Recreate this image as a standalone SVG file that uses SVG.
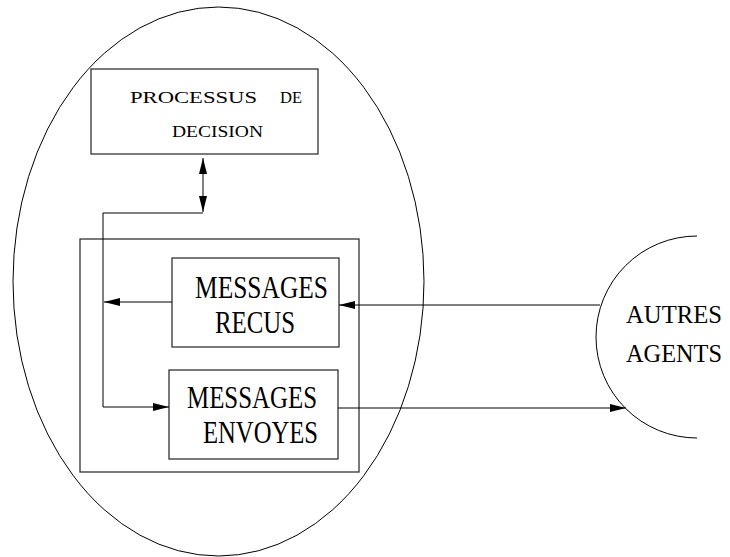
<svg xmlns="http://www.w3.org/2000/svg" width="730" height="557" viewBox="0 0 730 557">
<defs>
<style>
.s{fill:none;stroke:#000;stroke-width:1}
.b{fill:none;stroke:#222;stroke-width:1.2}
.t{font-family:"Liberation Serif","Times New Roman",serif;fill:#000}
.big{font-size:31px}
.sm{font-size:17px}
.ag{font-size:26px}
</style>
<marker id="ah" markerUnits="userSpaceOnUse" markerWidth="16" markerHeight="8" refX="16" refY="4" orient="auto-start-reverse" viewBox="0 0 16 8">
<path d="M0,0 L16,4 L0,8 z" fill="#000"/>
</marker>
</defs>
<rect width="730" height="557" fill="#fff"/>
<g id="agent">
<ellipse class="s" cx="218.5" cy="281.5" rx="205.5" ry="274.5"/>
</g>
<g id="decision">
<rect class="b" x="91" y="69" width="227" height="85"/>
<text class="t sm" y="103"><tspan x="130" textLength="127" lengthAdjust="spacingAndGlyphs">PROCESSUS</tspan><tspan x="280" textLength="22" lengthAdjust="spacingAndGlyphs">DE</tspan></text>
<text class="t sm" x="172" y="137" textLength="91" lengthAdjust="spacingAndGlyphs">DECISION</text>
</g>
<g id="messagerie">
<rect class="b" x="80" y="239" width="279" height="233"/>
</g>
<g id="recus">
<rect class="b" x="172" y="258" width="167" height="89"/>
<text class="t big" x="195" y="298" textLength="133" lengthAdjust="spacingAndGlyphs">MESSAGES</text>
<text class="t big" x="215" y="333" textLength="80" lengthAdjust="spacingAndGlyphs">RECUS</text>
</g>
<g id="envoyes">
<rect class="b" x="169" y="370" width="169" height="89"/>
<text class="t big" x="187" y="408" textLength="130" lengthAdjust="spacingAndGlyphs">MESSAGES</text>
<text class="t big" x="203" y="443" textLength="115" lengthAdjust="spacingAndGlyphs">ENVOYES</text>
</g>
<g id="autres">
<path class="s" d="M697,236 A101,101 0 0 0 697,438"/>
<text class="t ag" x="626" y="323" textLength="96" lengthAdjust="spacingAndGlyphs">AUTRES</text>
<text class="t ag" x="626" y="362" textLength="96" lengthAdjust="spacingAndGlyphs">AGENTS</text>
</g>
<g id="connectors">
<line class="s" x1="203" y1="158" x2="203" y2="212" marker-start="url(#ah)" marker-end="url(#ah)"/>
<polyline class="s" points="203,213 103,213 103,407 169,407" marker-end="url(#ah)"/>
<line class="s" x1="172" y1="302" x2="104" y2="302" marker-end="url(#ah)"/>
<line class="s" x1="600" y1="305" x2="339" y2="305" marker-end="url(#ah)"/>
<line class="s" x1="338" y1="408" x2="626" y2="408" marker-end="url(#ah)"/>
</g>
</svg>
